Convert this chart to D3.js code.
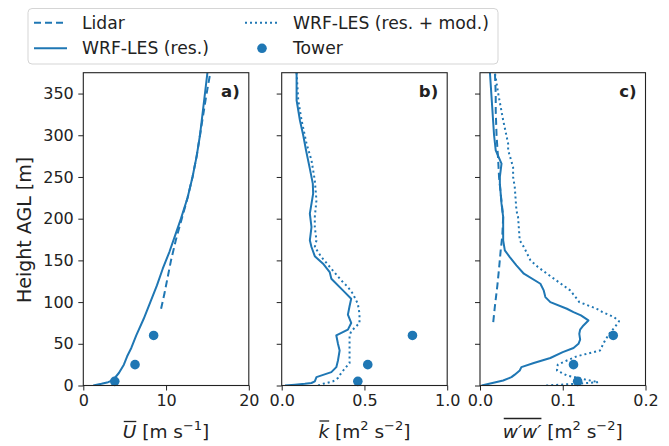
<!DOCTYPE html>
<html><head><meta charset="utf-8">
<script src="https://cdn.jsdelivr.net/npm/d3@7"></script>
<style>
body{margin:0;background:#fff}
svg text{font-family:"DejaVu Sans",sans-serif;fill:#222}
</style>
</head><body>
<svg id="chart" width="669" height="446"></svg>
<script>
// ---------------- DATA ----------------
const towerH = [5, 25, 60];
const towerU = [3.8, 6.25, 8.5];
const towerK = [0.46, 0.52, 0.79];
const towerW = [0.118, 0.113, 0.161];

// Panel a: mean wind speed
const uResH = [0,2,4,6,9,15,25,35,45,60,80,100,120,140,160,180,200,225,250,275,300,325,350,375];
const uResV = [1.2,2.2,3.0,3.5,3.8,4.3,4.9,5.3,5.8,6.4,7.3,8.1,8.9,9.6,10.4,11.1,11.8,12.6,13.2,13.7,14.1,14.4,14.7,15.0];
const uLidH = [92,110,130,150,175,200,225,250,275,300,325,350,375];
const uLidV = [9.4,9.8,10.2,10.6,11.2,11.9,12.6,13.2,13.7,14.1,14.5,14.9,15.35];

// Panel b: TKE
const kResH = [0,1,2,3,5,10,16,22,30,42,50,60,67,75,85,95,104,114,128,136,146,155,166,174,190,206,230,242,260,282,300,318,342,375];
const kResV = [0.02,0.08,0.14,0.18,0.20,0.21,0.30,0.33,0.34,0.35,0.34,0.33,0.40,0.42,0.40,0.41,0.42,0.37,0.30,0.29,0.25,0.20,0.18,0.17,0.18,0.17,0.19,0.188,0.17,0.147,0.13,0.11,0.09,0.09];
const kModH = [0,2,5,9,15,20,27,45,60,65,75,86,98,110,118,126,140,154,166,174,190,202,222,246,270,290,318,342,375];
const kModV = [0.22,0.25,0.31,0.34,0.36,0.38,0.41,0.41,0.41,0.42,0.47,0.47,0.46,0.43,0.40,0.36,0.30,0.24,0.20,0.21,0.20,0.20,0.21,0.20,0.18,0.15,0.12,0.10,0.09];

// Panel c: vertical velocity variance
const wResH = [0,3,6,10,13,18,22,27,33,40,45,50,55,62,67,72,78,84,88,92,100,106,114,122,134,144,154,162,174,202,218,242,250,266,282,300,330,375];
const wResV = [0.002,0.015,0.028,0.038,0.042,0.048,0.050,0.065,0.085,0.100,0.113,0.119,0.121,0.120,0.121,0.125,0.131,0.122,0.113,0.105,0.085,0.079,0.077,0.073,0.053,0.044,0.036,0.030,0.028,0.028,0.026,0.024,0.024,0.026,0.019,0.017,0.015,0.012];
const wModH = [0,2,4,7,12,18,25,30,35,42,52,62,70,77,82,88,92,100,104,114,124,134,142,150,166,174,202,210,238,250,262,282,290,318,350,375];
const wModV = [0.08,0.115,0.143,0.128,0.105,0.093,0.094,0.105,0.117,0.145,0.150,0.156,0.163,0.168,0.162,0.148,0.141,0.120,0.117,0.109,0.095,0.081,0.070,0.061,0.053,0.048,0.046,0.044,0.042,0.040,0.040,0.034,0.034,0.028,0.022,0.018];
const wLidH = [76,95,120,140,162,180,202,230,250,270,300,330,350,375];
const wLidV = [0.016,0.018,0.021,0.023,0.025,0.027,0.028,0.025,0.023,0.022,0.020,0.019,0.019,0.018];

const yTicks = [0,50,100,150,200,250,300,350];
const xTicksA = [0,10,20], xTickLabelsA = ["0","10","20"];
const xTicksB = [0,0.5,1.0], xTickLabelsB = ["0.0","0.5","1.0"];
const xTicksC = [0,0.1,0.2], xTickLabelsC = ["0.0","0.1","0.2"];
const panelLabels = ["a)","b)","c)"];
const legendLabels = ["Lidar","WRF-LES (res.)","WRF-LES (res. + mod.)","Tower"];

// ---------------- LAYOUT ----------------
const COLOR = "#1f77b4";
const svg = d3.select("#chart");
const yTop = 72.7, yBot = 385.5, pw = 165.5;
const lefts = [83.3, 281.7, 480];
const y = d3.scaleLinear().domain([0,375]).range([yBot, yTop]);
const zip = (H,V) => H.map((h,i)=>[V[i],h]);

const panels = [
  {dom:[0,20], ticks:xTicksA, tl:xTickLabelsA, lab:panelLabels[0],
   lines:[{d:zip(uLidH,uLidV),dash:"7,4"},{d:zip(uResH,uResV),dash:null}],
   tower:zip(towerH,towerU)},
  {dom:[0,1], ticks:xTicksB, tl:xTickLabelsB, lab:panelLabels[1],
   lines:[{d:zip(kResH,kResV),dash:null},{d:zip(kModH,kModV),dash:"2,3"}],
   tower:zip(towerH,towerK)},
  {dom:[0,0.2], ticks:xTicksC, tl:xTickLabelsC, lab:panelLabels[2],
   lines:[{d:zip(wLidH,wLidV),dash:"7,4"},{d:zip(wResH,wResV),dash:null},{d:zip(wModH,wModV),dash:"2,3"}],
   tower:zip(towerH,towerW)}
];

const defs = svg.append("defs");
panels.forEach((p,i)=>{
  const L = lefts[i];
  const x = d3.scaleLinear().domain(p.dom).range([L, L+pw]);
  defs.append("clipPath").attr("id","clip"+i).append("rect")
    .attr("x",L).attr("y",yTop).attr("width",pw).attr("height",yBot-yTop);
  const g = svg.append("g");
  const line = d3.line().x(d=>x(d[0])).y(d=>y(d[1]));
  const lg = g.append("g").attr("clip-path",`url(#clip${i})`);
  p.lines.forEach(l=>{
    lg.append("path").attr("d",line(l.d)).attr("fill","none")
      .attr("stroke",COLOR).attr("stroke-width",2)
      .attr("stroke-dasharray",l.dash).attr("stroke-linejoin","round");
  });
  g.selectAll("circle.t").data(p.tower).enter().append("circle")
    .attr("cx",d=>x(d[0])).attr("cy",d=>y(d[1])).attr("r",4.8).attr("fill",COLOR);
  // axes
  const xa = d3.axisBottom(x).tickValues(p.ticks).tickFormat((d,j)=>p.tl[j]).tickSize(5).tickPadding(4.5);
  const gx = g.append("g").attr("transform",`translate(0,${yBot})`).call(xa);
  gx.select(".domain").remove();
  gx.selectAll("text").attr("font-size",16).style("font-family","DejaVu Sans").attr("fill","#222");
  gx.selectAll("line").attr("stroke","#222");
  const ya = d3.axisLeft(y).tickValues(yTicks).tickSize(5).tickPadding(4.5)
    .tickFormat(i===0 ? d3.format("d") : ()=>"");
  const gy = g.append("g").attr("transform",`translate(${L},0)`).call(ya);
  gy.select(".domain").remove();
  gy.selectAll("text").attr("font-size",16).style("font-family","DejaVu Sans").attr("fill","#222");
  gy.selectAll("line").attr("stroke","#222");
  // frame
  g.append("rect").attr("x",L).attr("y",yTop).attr("width",pw).attr("height",yBot-yTop)
    .attr("fill","none").attr("stroke","#222").attr("stroke-width",1.1);
  // panel label
  g.append("text").attr("x",L+pw-9).attr("y",97).attr("text-anchor","end")
    .attr("font-size",16.5).attr("font-weight","bold").text(p.lab);
});

// x labels with overline
function xlabel(cx, base, parts, overN, overOff){
  const t = svg.append("text").attr("x",0).attr("y",base).attr("font-size",18.5);
  let shift = 0;
  parts.forEach(pt=>{
    const ts = t.append("tspan").text(pt.t);
    if(pt.it) ts.attr("font-style","italic");
    if(pt.sup){ ts.attr("font-size",13).attr("dy",-8-shift); shift = 8; }
    else if(shift){ ts.attr("dy",shift); shift = 0; }
  });
  const node = t.node();
  const total = node.getComputedTextLength();
  const x0 = cx - total/2;
  t.attr("x",x0);
  const w = node.getSubStringLength(0, overN);
  svg.append("line").attr("x1",x0+1).attr("x2",x0+w).attr("y1",base-overOff).attr("y2",base-overOff)
    .attr("stroke","#222").attr("stroke-width",1.3);
}
xlabel(lefts[0]+pw/2, 438, [{t:"U",it:true},{t:" [m s"},{t:"\u22121",sup:true},{t:"]"}], 1, 16.5);
xlabel(lefts[1]+pw/2, 438, [{t:"k",it:true},{t:" [m"},{t:"2",sup:true},{t:" s"},{t:"\u22122",sup:true},{t:"]"}], 1, 17);
xlabel(lefts[2]+pw/2, 438, [{t:"w\u2032w\u2032",it:true},{t:" [m"},{t:"2",sup:true},{t:" s"},{t:"\u22122",sup:true},{t:"]"}], 4, 19.5);

// y label
svg.append("text").attr("transform","translate(30.5,230) rotate(-90)")
  .attr("text-anchor","middle").attr("font-size",19).text("Height AGL [m]");

// legend
const lgd = svg.append("g");
lgd.append("rect").attr("x",28).attr("y",8.5).attr("width",470).attr("height",55.5).attr("rx",4)
  .attr("fill","#fff").attr("stroke","#d5d5d5").attr("stroke-width",1);
const items = [
  {lab:legendLabels[0], x:34, y:22.7, type:"line", dash:"7,4"},
  {lab:legendLabels[1], x:34, y:48.3, type:"line", dash:null},
  {lab:legendLabels[2], x:245, y:22.7, type:"line", dash:"2,3"},
  {lab:legendLabels[3], x:245, y:48.3, type:"dot"}
];
items.forEach(it=>{
  if(it.type==="line"){
    lgd.append("line").attr("x1",it.x).attr("x2",it.x+33).attr("y1",it.y).attr("y2",it.y)
      .attr("stroke",COLOR).attr("stroke-width",2).attr("stroke-dasharray",it.dash);
  } else {
    lgd.append("circle").attr("cx",it.x+17).attr("cy",it.y).attr("r",4.8).attr("fill",COLOR);
  }
  lgd.append("text").attr("x",it.x+48).attr("y",it.y).attr("dy","0.36em")
    .attr("font-size",17.2).text(it.lab);
});
</script>
</body></html>
